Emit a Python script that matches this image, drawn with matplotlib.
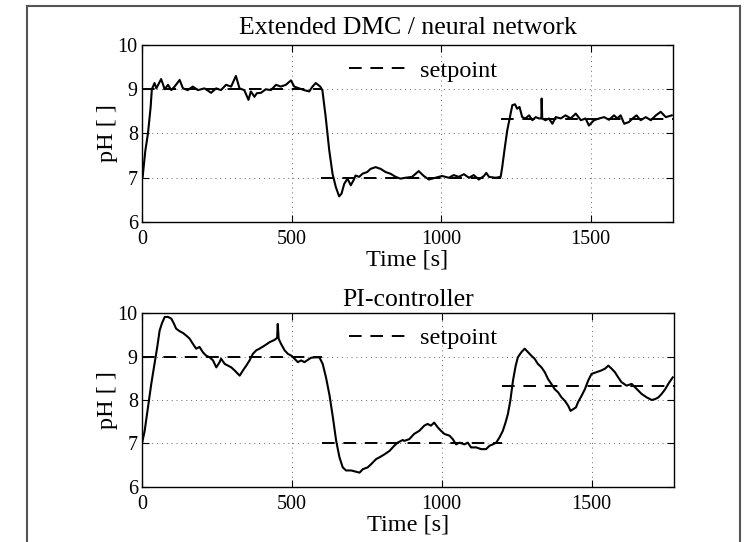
import matplotlib.pyplot as plt
from matplotlib.lines import Line2D

plt.rcParams['font.family'] = ['Liberation Serif', 'DejaVu Serif']

# Odpowiedz regulatora DMC / siec neuronowa
dmc_t = [0, 2, 11, 20, 29, 33, 42, 48, 64, 76, 87, 98, 109, 126, 137, 153, 170, 187, 209, 231,
         248, 264, 281, 298, 314, 326, 342, 356, 364, 376, 384, 398, 414, 431, 448, 464, 481,
         498, 509, 526, 542, 559, 570, 581, 596, 603, 614, 626, 637, 648, 659, 667, 676, 687,
         698, 707, 714, 726, 737, 753, 764, 781, 798, 814, 831, 848, 864, 881, 903, 925, 942,
         959, 981, 1003, 1026, 1042, 1059, 1076, 1093, 1109, 1126, 1143, 1151, 1160, 1182,
         1199, 1204, 1213, 1221, 1230, 1238, 1247, 1254, 1262, 1271, 1282, 1294, 1305, 1316,
         1327, 1335, 1336, 1338, 1349, 1360, 1372, 1383, 1400, 1416, 1433, 1450, 1467, 1483,
         1494, 1511, 1528, 1545, 1561, 1578, 1589, 1600, 1612, 1628, 1640, 1653, 1667, 1684,
         1701, 1718, 1734, 1751, 1771]
dmc_ph = [7.0, 7.0, 7.6, 8.0, 8.6, 9.0, 9.14, 9.02, 9.23, 9.0, 9.1, 8.98, 9.06, 9.21, 9.02, 8.98,
          9.06, 8.98, 9.02, 8.92, 9.02, 8.98, 9.1, 9.06, 9.3, 9.02, 8.98, 8.76, 8.95, 8.83, 8.91,
          8.92, 9.0, 8.98, 9.1, 9.06, 9.1, 9.2, 9.06, 9.02, 8.98, 8.95, 9.06, 9.14, 9.06, 8.98,
          8.38, 7.62, 7.09, 6.79, 6.58, 6.64, 6.86, 6.98, 6.83, 6.94, 7.05, 7.02, 7.09, 7.13,
          7.2, 7.24, 7.2, 7.13, 7.09, 7.02, 6.98, 7.0, 7.02, 7.15, 7.04, 6.96, 7.0, 7.04, 7.0,
          7.06, 7.02, 7.08, 7.0, 7.06, 6.96, 7.04, 7.11, 7.02, 7.0, 7.02, 7.23, 7.69, 8.07, 8.37,
          8.64, 8.66, 8.56, 8.6, 8.37, 8.34, 8.41, 8.3, 8.37, 8.34, 8.34, 8.79, 8.34, 8.3, 8.34,
          8.22, 8.37, 8.34, 8.41, 8.34, 8.45, 8.3, 8.34, 8.18, 8.3, 8.34, 8.37, 8.31, 8.41, 8.34,
          8.41, 8.22, 8.26, 8.34, 8.41, 8.3, 8.37, 8.3, 8.41, 8.49, 8.37, 8.41]

# Odpowiedz regulatora PI
pi_t = [0, 9, 20, 31, 42, 51, 59, 67, 76, 87, 98, 107, 114, 126, 137, 148, 159, 170, 181, 192,
        203, 214, 226, 237, 248, 259, 264, 276, 287, 298, 309, 320, 326, 337, 348, 359, 370,
        381, 392, 409, 426, 442, 451, 453, 456, 464, 476, 487, 498, 509, 520, 531, 542, 553,
        564, 576, 592, 603, 614, 626, 637, 648, 659, 670, 681, 698, 714, 726, 737, 753, 764,
        781, 792, 809, 826, 842, 853, 870, 875, 892, 908, 925, 942, 953, 964, 975, 987, 998,
        1009, 1026, 1037, 1048, 1059, 1076, 1087, 1098, 1115, 1132, 1148, 1160, 1171, 1182,
        1193, 1204, 1213, 1221, 1229, 1238, 1247, 1254, 1266, 1277, 1288, 1299, 1310, 1321,
        1333, 1344, 1355, 1366, 1377, 1388, 1400, 1411, 1422, 1430, 1439, 1448, 1455, 1467,
        1478, 1489, 1500, 1517, 1533, 1545, 1556, 1567, 1578, 1589, 1600, 1617, 1634, 1651,
        1667, 1684, 1701, 1712, 1723, 1734, 1746, 1757, 1771]
pi_ph = [7.0, 7.29, 7.83, 8.37, 8.83, 9.22, 9.6, 9.77, 9.91, 9.91, 9.87, 9.75, 9.64, 9.58, 9.54,
         9.48, 9.41, 9.29, 9.18, 9.22, 9.1, 9.02, 8.98, 8.91, 8.75, 8.87, 8.95, 8.83, 8.79, 8.75,
         8.68, 8.6, 8.56, 8.68, 8.79, 8.91, 9.06, 9.14, 9.18, 9.25, 9.33, 9.38, 9.43, 9.75, 9.41,
         9.29, 9.14, 9.06, 9.02, 8.95, 8.87, 8.91, 8.87, 8.92, 8.97, 8.98, 8.98, 8.83, 8.52, 8.1,
         7.6, 7.06, 6.68, 6.45, 6.38, 6.38, 6.35, 6.33, 6.41, 6.45, 6.52, 6.64, 6.68, 6.75, 6.83,
         6.95, 7.02, 7.08, 7.06, 7.1, 7.22, 7.29, 7.41, 7.45, 7.41, 7.48, 7.37, 7.29, 7.22, 7.18,
         7.1, 6.98, 7.02, 6.98, 7.02, 6.91, 6.91, 6.87, 6.87, 6.95, 6.98, 7.02, 7.14, 7.29, 7.48,
         7.68, 7.98, 8.45, 8.79, 8.98, 9.1, 9.18, 9.1, 9.02, 8.95, 8.83, 8.75, 8.64, 8.48, 8.37,
         8.25, 8.18, 8.06, 7.98, 7.87, 7.75, 7.79, 7.83, 7.95, 8.1, 8.25, 8.45, 8.6, 8.64, 8.68,
         8.72, 8.79, 8.72, 8.64, 8.52, 8.41, 8.33, 8.37, 8.25, 8.14, 8.06, 8.0, 8.02, 8.06, 8.14,
         8.25, 8.38, 8.52]

# Wartosc zadana (odcinki)
sp_start = [0, 600, 1200]
sp_end = [600, 1200, 1775]
sp_value = [9, 7, 8.33]

titles = ["Extended DMC / neural network", "PI-controller"]
title_pads = [8, 5]

fig = plt.figure(figsize=(7.48, 5.42), dpi=100)
ax1 = fig.add_axes([0.1898, 0.5904, 0.7099, 0.3266])
ax2 = fig.add_axes([0.1898, 0.1015, 0.7112, 0.321])

panels = [(ax1, dmc_t, dmc_ph, titles[0], title_pads[0]),
          (ax2, pi_t, pi_ph, titles[1], title_pads[1])]
for ax, t, ph, title, tpad in panels:
    # setpoint jako jedna linia z przerwami
    sx, sy = [], []
    for a, b, v in zip(sp_start, sp_end, sp_value):
        sx += [a, b, float('nan')]
        sy += [v, v, float('nan')]
    ax.plot(sx, sy, color='black', lw=1.4, linestyle=(0, (6.5, 4.5)), label='setpoint')
    ax.plot(t, ph, color='black', lw=1.5)

    ax.set_xlim(0, 1775)
    ax.set_ylim(6, 10)
    ax.set_xticks([0, 500, 1000, 1500])
    ax.set_yticks([6, 7, 8, 9, 10])
    ax.grid(True, color='black', linestyle=(0, (1, 4)), lw=0.7, alpha=0.6)
    ax.tick_params(direction='in', top=True, right=True, length=5, width=0.8,
                   labelsize=14.5, pad=6)
    ax.tick_params(axis='y', pad=3)
    for s in ax.spines.values():
        s.set_linewidth(1.0)

    ax.set_title(title, fontsize=18.5, pad=tpad)
    ax.set_xlabel("Time [s]", fontsize=17.5, labelpad=0)
    ax.set_ylabel("pH [ ]", fontsize=17.5, labelpad=0)

    ax.legend(loc='center left', bbox_to_anchor=(0.39, 0.855), frameon=False,
              fontsize=17.5, handlelength=2.3, handletextpad=0.6,
              borderpad=0, borderaxespad=0)

# Ramka wokol rysunku (skan)
W, H = 748, 542
frame_kw = dict(color='#555555', lw=1.5, transform=fig.transFigure)
fig.add_artist(Line2D([27 / W, 27 / W], [0, 1 - 6 / H], **frame_kw))
fig.add_artist(Line2D([27 / W, 740 / W], [1 - 6 / H, 1 - 6 / H], **frame_kw))
fig.add_artist(Line2D([740 / W, 740 / W], [0, 1 - 6 / H], **frame_kw))

fig.savefig("out.png", dpi=100)
